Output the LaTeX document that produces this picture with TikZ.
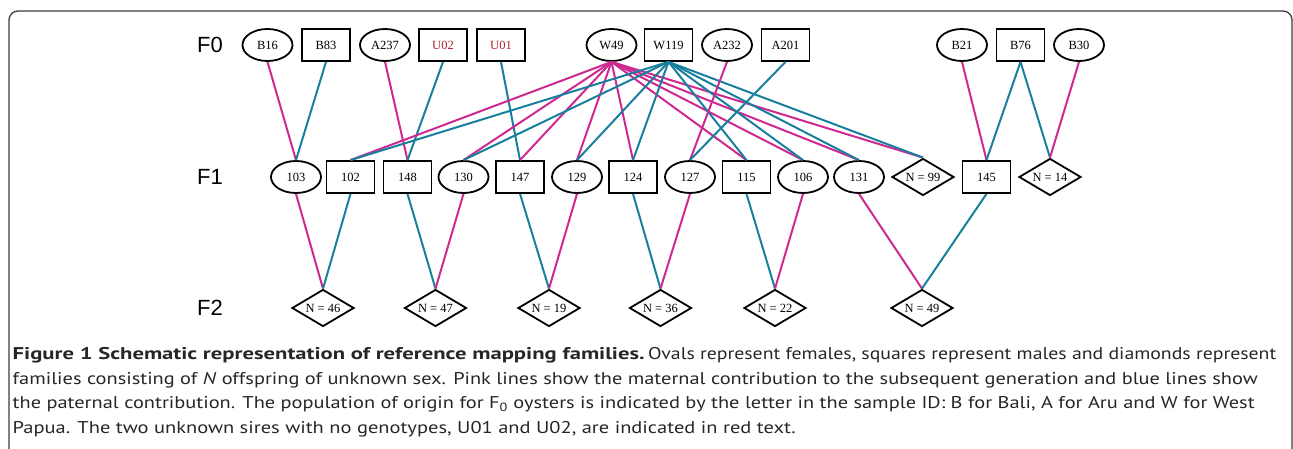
\documentclass[tikz,border=0pt]{standalone}
\usepackage{fontspec}
\setmainfont{Liberation Serif}
\newfontfamily\capfont{PT Sans}
\newfontfamily\labfont{Liberation Sans}
\usetikzlibrary{shapes.geometric}
\definecolor{matpink}{RGB}{208,40,145}
\definecolor{patblue}{RGB}{24,128,158}
\definecolor{sirered}{RGB}{175,30,45}
\definecolor{framegray}{RGB}{60,60,60}
\newsavebox\capboxA
\newlength\capw
\newcommand\fitto[2]{\sbox\capboxA{#2}\setlength\capw{\wd\capboxA}\pgfmathsetmacro\fsx{#1*1.00375/\capw}\scalebox{\fsx}[1]{\usebox\capboxA}}
\begin{document}
\begin{tikzpicture}[x=1bp,y=-1bp,
  nodefont/.style={font=\fontsize{12.5bp}{14bp}\selectfont},
  fem/.style={ellipse,draw,line width=1.8bp,minimum width=50bp,minimum height=32bp,inner sep=0pt,nodefont},
  mal/.style={rectangle,draw,line width=1.8bp,minimum width=48bp,minimum height=32bp,inner sep=0pt,nodefont},
  fam/.style={diamond,draw,line width=1.8bp,minimum width=62bp,minimum height=37bp,inner sep=0pt,shape aspect=1.7,nodefont},
  gen/.style={font=\labfont\fontsize{22bp}{24bp}\selectfont,inner sep=0pt},
  mat/.style={draw=matpink,line width=2bp},
  pat/.style={draw=patblue,line width=2bp},
  capline/.style={anchor=base west,inner sep=0pt,text=black!85,font=\capfont\fontsize{17bp}{19bp}\selectfont}
]
\clip (0,0) rectangle (1293,449);
\draw[framegray,line width=1.3bp,rounded corners=9bp] (9,11) rectangle (1292,470);

% generation labels
\node[gen] (g0) at (210,45) {F0};
\node[gen] (g1) at (210,177) {F1};
\node[gen] (g2) at (210,308) {F2};

% F0
\node[fem] (B16) at (267.5,45) {B16};
\node[mal] (B83) at (326,45) {B83};
\node[fem] (A237) at (385,45) {A237};
\node[mal,text=sirered] (U02) at (443,45) {U02};
\node[mal,text=sirered] (U01) at (501,45) {U01};
\node[fem] (W49) at (611.5,45) {W49};
\node[mal] (W119) at (668.5,45) {W119};
\node[fem] (A232) at (727,45) {A232};
\node[mal] (A201) at (785.5,45) {A201};
\node[fem] (B21) at (962,45) {B21};
\node[mal] (B76) at (1020.5,45) {B76};
\node[fem] (B30) at (1079,45) {B30};

% F1
\node[fem] (n103) at (296,177) {103};
\node[mal] (n102) at (350.5,177) {102};
\node[mal] (n148) at (407.5,177) {148};
\node[fem] (n130) at (463.5,177) {130};
\node[mal] (n147) at (520,177) {147};
\node[fem] (n129) at (577,177) {129};
\node[mal] (n124) at (633,177) {124};
\node[fem] (n127) at (690,177) {127};
\node[mal] (n115) at (746.5,177) {115};
\node[fem] (n106) at (803,177) {106};
\node[fem] (n131) at (859,177) {131};
\node[fam] (N99) at (923,177) {N = 99};
\node[mal] (n145) at (986.5,177) {145};
\node[fam] (N14) at (1050,177) {N = 14};

% F2
\node[fam] (N46) at (323,308) {N = 46};
\node[fam] (N47) at (435.5,308) {N = 47};
\node[fam] (N19) at (549,308) {N = 19};
\node[fam] (N36) at (660.5,308) {N = 36};
\node[fam] (N22) at (775,308) {N = 22};
\node[fam] (N49) at (922,308) {N = 49};

% F0 -> F1
\draw[mat] (B16.south) -- (n103.north);
\draw[pat] (B83.south) -- (n103.north);
\draw[mat] (A237.south) -- (n148.north);
\draw[pat] (U02.south) -- (n148.north);
\draw[pat] (U01.south) -- (n147.north);
\foreach \c in {n102,n130,n147,n129,n124,n115,n106,n131,N99}
  \draw[mat] (W49.south) -- (\c.north);
\foreach \c in {n102,n130,n129,n124,n115,n106,n131,N99}
  \draw[pat] (W119.south) -- (\c.north);
\draw[mat] (A232.south) -- (n127.north);
\draw[pat] (A201.south) -- (n127.north);
\draw[mat] (B21.south) -- (n145.north);
\draw[pat] (B76.south) -- (n145.north);
\draw[pat] (B76.south) -- (N14.north);
\draw[mat] (B30.south) -- (N14.north);

% F1 -> F2
\draw[mat] (n103.south) -- (N46.north);
\draw[pat] (n102.south) -- (N46.north);
\draw[pat] (n148.south) -- (N47.north);
\draw[mat] (n130.south) -- (N47.north);
\draw[pat] (n147.south) -- (N19.north);
\draw[mat] (n129.south) -- (N19.north);
\draw[pat] (n124.south) -- (N36.north);
\draw[mat] (n127.south) -- (N36.north);
\draw[pat] (n115.south) -- (N22.north);
\draw[mat] (n106.south) -- (N22.north);
\draw[mat] (n131.south) -- (N49.north);
\draw[pat] (n145.south) -- (N49.north);

% caption
\node[capline] (cap1a) at (12.5,360) {\fitto{632}{\textbf{Figure 1 Schematic representation of reference mapping families.}}};
\node[capline] (cap1b) at (648,360) {\fitto{628}{Ovals represent females, squares represent males and diamonds represent}};
\node[capline] (cap2) at (12.5,384.5) {\fitto{1245}{families consisting of \textit{N} offspring of unknown sex. Pink lines show the maternal contribution to the subsequent generation and blue lines show}};
\node[capline] (cap3) at (12.5,409) {\fitto{1242}{the paternal contribution. The population of origin for F\textsubscript{0} oysters is indicated by the letter in the sample ID: B for Bali, A for Aru and W for West}};
\node[capline] (cap4) at (12.5,433.5) {\fitto{783}{Papua. The two unknown sires with no genotypes, U01 and U02, are indicated in red text.}};
\end{tikzpicture}
\end{document}
